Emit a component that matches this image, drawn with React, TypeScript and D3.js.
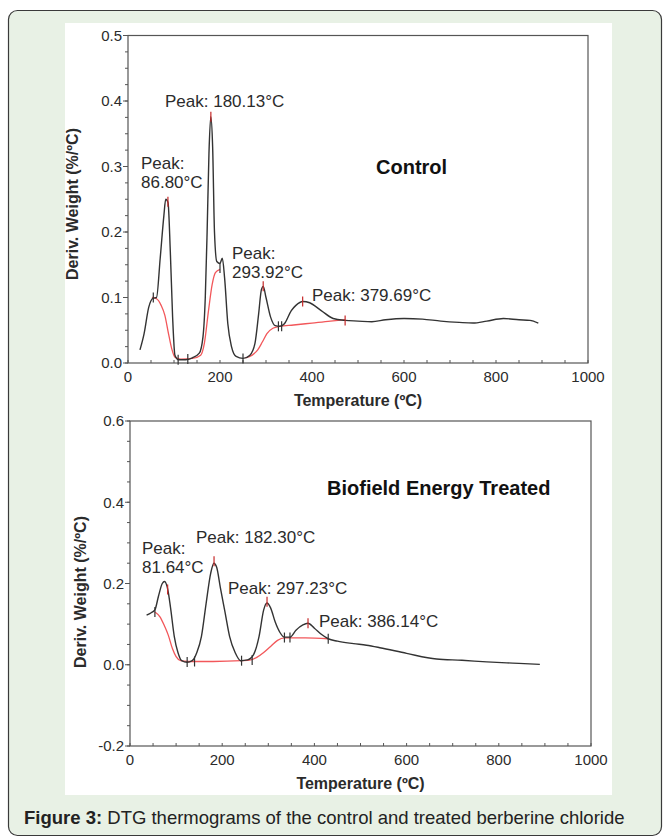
import React from "react";
import * as d3 from "d3";

// Control sample: DTG curve (black) and integration baseline (red), [temperature °C, %/°C]
const controlCurve: [number, number][] = [
  [26, 0.02], [35, 0.045], [45, 0.085], [55, 0.099], [62, 0.1], [70, 0.16], [78, 0.225], [82, 0.25],
  [87, 0.245], [92, 0.17], [97, 0.07], [102, 0.012], [110, 0.005], [125, 0.005], [140, 0.008],
  [155, 0.015], [163, 0.04], [168, 0.1], [172, 0.2], [176, 0.32], [180, 0.376], [184, 0.33],
  [188, 0.2], [193, 0.155], [200, 0.152], [205, 0.16], [210, 0.13], [217, 0.06], [225, 0.025],
  [235, 0.01], [250, 0.007], [265, 0.012], [276, 0.03], [284, 0.075], [290, 0.112], [294, 0.117],
  [300, 0.1], [310, 0.07], [320, 0.057], [330, 0.056], [340, 0.06], [355, 0.08], [365, 0.088],
  [380, 0.094], [395, 0.092], [420, 0.08], [446, 0.068], [472, 0.065], [500, 0.064], [530, 0.063],
  [560, 0.066], [600, 0.068], [640, 0.067], [680, 0.064], [720, 0.062], [750, 0.061], [780, 0.064],
  [816, 0.068], [850, 0.066], [874, 0.065], [892, 0.061],
];
const controlBase1: [number, number][] = [
  [52, 0.1], [62, 0.098], [72, 0.088], [80, 0.073], [88, 0.045], [95, 0.022], [102, 0.009],
  [115, 0.006], [140, 0.007], [158, 0.012], [166, 0.03], [175, 0.08], [183, 0.12], [190, 0.138], [200, 0.143],
];
const controlBase2: [number, number][] = [
  [255, 0.008], [270, 0.012], [282, 0.02], [292, 0.032], [302, 0.045], [315, 0.053], [330, 0.056],
  [360, 0.058], [400, 0.061], [440, 0.064], [472, 0.066],
];
const controlMarksBlack: [number, number][] = [
  [55, 0.1], [109, 0.005], [130, 0.006], [200, 0.145], [250, 0.007], [327, 0.056], [334, 0.056],
];
const controlMarksRed: [number, number][] = [
  [86.8, 0.246], [180.13, 0.376], [293.92, 0.117], [379.69, 0.094], [472, 0.065],
];

// Biofield energy treated sample
const treatedCurve: [number, number][] = [
  [36, 0.122], [46, 0.128], [54, 0.135], [62, 0.17], [70, 0.2], [75, 0.205], [82, 0.185], [88, 0.14],
  [96, 0.07], [104, 0.03], [112, 0.01], [124, 0.006], [135, 0.01], [145, 0.03], [155, 0.07],
  [165, 0.15], [175, 0.225], [182, 0.25], [188, 0.24], [196, 0.19], [206, 0.13], [216, 0.07],
  [228, 0.03], [240, 0.01], [255, 0.012], [268, 0.025], [280, 0.07], [290, 0.135], [297, 0.152],
  [305, 0.14], [315, 0.105], [325, 0.08], [335, 0.068], [347, 0.068], [360, 0.085], [375, 0.098],
  [386, 0.102], [400, 0.09], [415, 0.075], [430, 0.064], [450, 0.058], [485, 0.052], [513, 0.048],
  [542, 0.042], [600, 0.028], [665, 0.014], [720, 0.011], [774, 0.007], [830, 0.004], [889, 0.001],
];
const treatedBase: [number, number][] = [
  [54, 0.13], [65, 0.118], [75, 0.095], [83, 0.073], [92, 0.04], [100, 0.02], [110, 0.01],
  [125, 0.008], [180, 0.008], [242, 0.01], [262, 0.012], [275, 0.018], [290, 0.03], [305, 0.045],
  [320, 0.06], [335, 0.066], [380, 0.066], [430, 0.064],
];
const treatedMarksBlack: [number, number][] = [
  [54, 0.13], [124, 0.007], [140, 0.008], [242, 0.01], [265, 0.012], [335, 0.067], [347, 0.067], [430, 0.064],
];
const treatedMarksRed: [number, number][] = [
  [81.64, 0.185], [182.3, 0.255], [297.23, 0.155], [386.14, 0.102],
];

const xTicks = [0, 200, 400, 600, 800, 1000];
const controlYTicks = [0, 0.1, 0.2, 0.3, 0.4, 0.5];
const treatedYTicks = [-0.2, 0, 0.2, 0.4, 0.6];

const font = "'Liberation Sans', Arial, sans-serif";
const ink = "#2b2b2b";
const axisCol = "#555";
const redCol = "#f2575a";

type Label = { x: number; y: number; lines: string[] };

type PanelProps = {
  left: number; right: number; top: number; bottom: number;
  yDomain: [number, number]; yTicks: number[]; yMinor: number;
  curve: [number, number][]; bases: [number, number][][];
  marksBlack: [number, number][]; marksRed: [number, number][];
  title: string; titleX: number; titleY: number;
  labels: Label[]; yTitleX: number; yTitleY: number;
};

function Panel(p: PanelProps) {
  const x = d3.scaleLinear().domain([0, 1000]).range([p.left, p.right]);
  const y = d3.scaleLinear().domain(p.yDomain).range([p.bottom, p.top]);
  const ln = d3.line<[number, number]>().x(d => x(d[0])).y(d => y(d[1])).curve(d3.curveMonotoneX);
  const minorY = d3.range(p.yDomain[0], p.yDomain[1] + 1e-9, p.yMinor);
  const minorX = d3.range(0, 1000.1, 50);
  // plain hyphen for negatives, like the original plot
  const fmt = (v: number) => v.toFixed(1);
  return (
    <g fontFamily={font}>
      <rect x={p.left} y={p.top} width={p.right - p.left} height={p.bottom - p.top} fill="none" stroke={axisCol} strokeWidth={1.2} />
      {minorY.map((v, i) => (
        <line key={"my" + i} x1={p.left - 3} x2={p.left} y1={y(v)} y2={y(v)} stroke={axisCol} />
      ))}
      {p.yTicks.map((v, i) => (
        <g key={"y" + i}>
          <line x1={p.left - 5} x2={p.left} y1={y(v)} y2={y(v)} stroke={axisCol} />
          <text x={p.left - 6} y={y(v)} dy="0.36em" textAnchor="end" fontSize={15} fill={ink}>{fmt(v)}</text>
        </g>
      ))}
      {minorX.map((v, i) => (
        <line key={"mx" + i} x1={x(v)} x2={x(v)} y1={p.bottom} y2={p.bottom - 3} stroke={axisCol} />
      ))}
      {xTicks.map((v, i) => (
        <text key={"x" + i} x={x(v)} y={p.bottom + 19} textAnchor="middle" fontSize={15} fill={ink}>{v}</text>
      ))}
      <text x={(p.left + p.right) / 2} y={p.bottom + 43} textAnchor="middle" fontSize={16} fontWeight="bold" fill={ink}>
        Temperature (ºC)
      </text>
      <text transform={`translate(${p.yTitleX},${p.yTitleY}) rotate(-90)`} textAnchor="middle" fontSize={16} fontWeight="bold" fill={ink}>
        Deriv. Weight (%/ºC)
      </text>
      {p.bases.map((b, i) => (
        <path key={"b" + i} d={ln(b) || ""} fill="none" stroke={redCol} strokeWidth={1.3} />
      ))}
      <path d={ln(p.curve) || ""} fill="none" stroke="#333" strokeWidth={1.4} />
      {p.marksBlack.map((m, i) => (
        <line key={"kb" + i} x1={x(m[0])} x2={x(m[0])} y1={y(m[1]) - 5} y2={y(m[1]) + 5} stroke="#333" strokeWidth={1.2} />
      ))}
      {p.marksRed.map((m, i) => (
        <line key={"kr" + i} x1={x(m[0])} x2={x(m[0])} y1={y(m[1]) - 5} y2={y(m[1]) + 5} stroke="#c62828" strokeWidth={1.2} />
      ))}
      <text x={p.titleX} y={p.titleY} fontSize={20} fontWeight="bold" fill="#111">{p.title}</text>
      {p.labels.map((l, i) => (
        <text key={"l" + i} x={l.x} y={l.y} fontSize={17} fill={ink}>
          {l.lines.map((s, j) => (
            <tspan key={j} x={l.x} dy={j === 0 ? 0 : 19}>{s}</tspan>
          ))}
        </text>
      ))}
    </g>
  );
}

export default function App() {
  return (
    <div style={{ position: "absolute", left: 0, top: 0 }}>
      <svg width={665} height={837}>
        <rect x={8.5} y={10.5} width={653} height={825} rx={9} fill="#e8f1e5" stroke="#3a3a3a" strokeWidth={1.2} />
        <rect x={65} y={23} width={547} height={772} fill="#fff" />
        <Panel
          left={128} right={588} top={35.5} bottom={363}
          yDomain={[0, 0.5]} yTicks={controlYTicks} yMinor={0.025}
          curve={controlCurve} bases={[controlBase1, controlBase2]}
          marksBlack={controlMarksBlack} marksRed={controlMarksRed}
          title="Control" titleX={376} titleY={174}
          yTitleX={78} yTitleY={204}
          labels={[
            { x: 165, y: 107, lines: ["Peak: 180.13°C"] },
            { x: 141, y: 169, lines: ["Peak:", "86.80°C"] },
            { x: 232, y: 259, lines: ["Peak:", "293.92°C"] },
            { x: 312, y: 301, lines: ["Peak: 379.69°C"] },
          ]}
        />
        <Panel
          left={130} right={591} top={421} bottom={746}
          yDomain={[-0.2, 0.6]} yTicks={treatedYTicks} yMinor={0.05}
          curve={treatedCurve} bases={[treatedBase]}
          marksBlack={treatedMarksBlack} marksRed={treatedMarksRed}
          title="Biofield Energy Treated" titleX={327} titleY={495}
          yTitleX={86} yTitleY={592}
          labels={[
            { x: 196, y: 543, lines: ["Peak: 182.30°C"] },
            { x: 142, y: 554, lines: ["Peak:", "81.64°C"] },
            { x: 228, y: 594, lines: ["Peak: 297.23°C"] },
            { x: 319, y: 627, lines: ["Peak: 386.14°C"] },
          ]}
        />
        <text x={24} y={824} fontFamily={font} fontSize={18.5} fill="#222">
          <tspan fontWeight="bold">Figure 3:</tspan>
          <tspan> DTG thermograms of the control and treated berberine chloride</tspan>
        </text>
      </svg>
    </div>
  );
}
